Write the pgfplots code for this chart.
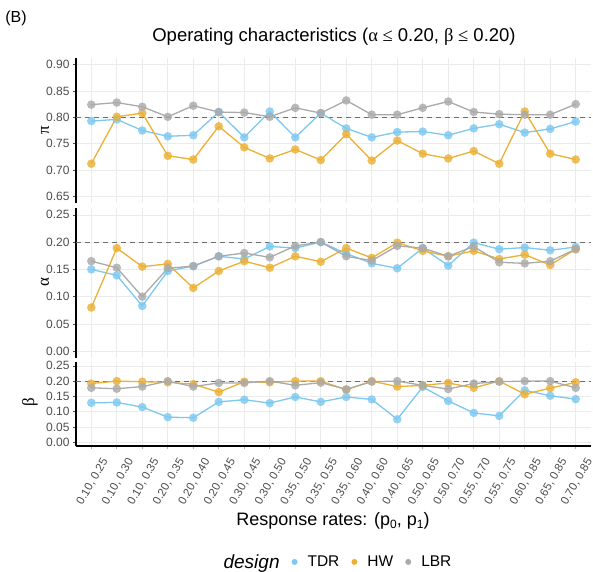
\documentclass[border=0pt]{standalone}
\usepackage{fontspec}
\setmainfont{Liberation Sans}
\newfontfamily\greek{Liberation Serif}
\usepackage{pgfplots}
\usepackage{pgfplotstable}
\pgfplotsset{compat=1.18}
\definecolor{tdr}{RGB}{125,200,240}
\definecolor{hw}{RGB}{236,176,52}
\definecolor{lbr}{RGB}{170,170,170}
\definecolor{gridc}{RGB}{235,235,235}
\definecolor{tickc}{RGB}{77,77,77}
\definecolor{refc}{RGB}{110,110,110}

\pgfplotstableread{
x tdr hw lbr
1 0.793 0.712 0.824
2 0.796 0.801 0.828
3 0.775 0.808 0.820
4 0.764 0.727 0.801
5 0.766 0.720 0.822
6 0.810 0.783 0.810
7 0.762 0.743 0.809
8 0.811 0.722 0.801
9 0.762 0.739 0.818
10 0.808 0.719 0.808
11 0.779 0.768 0.832
12 0.762 0.718 0.805
13 0.772 0.756 0.805
14 0.773 0.731 0.818
15 0.766 0.722 0.830
16 0.779 0.736 0.810
17 0.787 0.712 0.806
18 0.771 0.811 0.805
19 0.778 0.731 0.805
20 0.792 0.720 0.825
}\pidata

\pgfplotstableread{
x tdr hw lbr
1 0.150 0.080 0.165
2 0.139 0.189 0.153
3 0.083 0.155 0.100
4 0.147 0.160 0.152
5 0.156 0.116 0.156
6 0.174 0.147 0.174
7 0.169 0.165 0.180
8 0.192 0.153 0.172
9 0.189 0.174 0.193
10 0.200 0.164 0.200
11 0.179 0.189 0.174
12 0.161 0.171 0.166
13 0.152 0.199 0.193
14 0.189 0.184 0.189
15 0.157 0.174 0.174
16 0.199 0.184 0.192
17 0.187 0.169 0.163
18 0.190 0.177 0.161
19 0.185 0.158 0.165
20 0.191 0.187 0.187
}\alphadata

\pgfplotstableread{
x tdr hw lbr
1 0.129 0.192 0.178
2 0.130 0.200 0.175
3 0.115 0.198 0.182
4 0.082 0.196 0.200
5 0.080 0.190 0.182
6 0.132 0.164 0.194
7 0.139 0.198 0.194
8 0.128 0.196 0.200
9 0.148 0.200 0.186
10 0.132 0.200 0.195
11 0.148 0.172 0.173
12 0.140 0.200 0.198
13 0.075 0.182 0.200
14 0.181 0.186 0.186
15 0.135 0.194 0.174
16 0.096 0.178 0.192
17 0.086 0.200 0.198
18 0.170 0.157 0.200
19 0.152 0.177 0.200
20 0.141 0.196 0.178
}\betadata

\pgfplotsset{
  panel/.style={
    scale only axis, width=515pt, anchor=south west,
    xmin=0.4, xmax=20.6, xtick={1,...,20},
    axis x line*=bottom, axis y line*=left,
    axis line style={-},
    y axis line style={black, line width=1.4pt},
    xmajorgrids, ymajorgrids,
    grid style={gridc, line width=0.6pt},
    tick align=outside, major tick length=3pt,
    ytick style={tickc, line width=0.6pt},
    yticklabel style={font=\fontsize{12}{12}\selectfont, color=tickc},
    /pgf/number format/.cd, fixed, fixed zerofill, precision=2, assume math mode=true,
  },
  upper/.style={
    x axis line style={draw=none}, xtick style={draw=none}, xticklabels={},
  },
  ln/.style={line width=1.3pt, no marks},
  pt/.style={only marks, color=#1, mark=*, mark size=4.3pt, mark options={solid, fill=#1, draw opacity=0, fill opacity=0.82}},
  refline/.style={refc, dash pattern=on 5pt off 4pt, line width=1pt, no marks},
}

\begin{document}
\begin{tikzpicture}[x=1pt,y=1pt]
\path[use as bounding box] (0,0) rectangle (593,571);

% top panel: pi
\begin{axis}[panel, upper, at={(76pt,368pt)}, height=145pt,
  ymin=0.6375, ymax=0.9125, ytick={0.65,0.7,0.75,0.8,0.85,0.9}]
\addplot[refline] coordinates {(0.4,0.8) (20.6,0.8)};
\addplot[ln, tdr] table[x=x,y=tdr]{\pidata};
\addplot[ln, hw] table[x=x,y=hw]{\pidata};
\addplot[ln, lbr] table[x=x,y=lbr]{\pidata};
\addplot[pt=tdr] table[x=x,y=tdr]{\pidata};
\addplot[pt=hw] table[x=x,y=hw]{\pidata};
\addplot[pt=lbr] table[x=x,y=lbr]{\pidata};
\end{axis}

% middle panel: alpha
\begin{axis}[panel, upper, at={(76pt,213pt)}, height=150pt,
  ymin=-0.0125, ymax=0.2625, ytick={0,0.05,0.1,0.15,0.2,0.25}]
\addplot[refline] coordinates {(0.4,0.2) (20.6,0.2)};
\addplot[ln, tdr] table[x=x,y=tdr]{\alphadata};
\addplot[ln, hw] table[x=x,y=hw]{\alphadata};
\addplot[ln, lbr] table[x=x,y=lbr]{\alphadata};
\addplot[pt=tdr] table[x=x,y=tdr]{\alphadata};
\addplot[pt=hw] table[x=x,y=hw]{\alphadata};
\addplot[pt=lbr] table[x=x,y=lbr]{\alphadata};
\end{axis}

% bottom panel: beta
\begin{axis}[panel, at={(76pt,125pt)}, height=84pt,
  ymin=-0.0125, ymax=0.2625, ytick={0,0.05,0.1,0.15,0.2,0.25},
  x axis line style={black, line width=1.4pt},
  xtick style={gray!60, line width=0.6pt},
  xticklabels={{0.10, 0.25},{0.10, 0.30},{0.10, 0.35},{0.20, 0.35},{0.20, 0.40},{0.20, 0.45},{0.30, 0.45},{0.30, 0.50},{0.35, 0.50},{0.35, 0.55},{0.35, 0.60},{0.40, 0.60},{0.40, 0.65},{0.50, 0.65},{0.50, 0.70},{0.55, 0.70},{0.55, 0.75},{0.60, 0.85},{0.65, 0.85},{0.70, 0.85}},
  xticklabel style={xshift=9pt, yshift=-5pt, rotate=60, anchor=north east, font=\fontsize{11.5}{12}\selectfont, color=tickc, inner sep=2pt},
  legend style={at={(rel axis cs:0.5,-1.38)}, anchor=center, draw=none, fill=none,
    legend columns=-1, font=\fontsize{15.5}{16}\selectfont,
    /tikz/every odd column/.append style={column sep=8pt},
    /tikz/every even column/.append style={column sep=10pt}},
  legend cell align=left]
\addlegendimage{empty legend}
\addlegendentry{\fontsize{19}{19}\selectfont\itshape design}
\addlegendimage{only marks, color=tdr, mark=*, mark size=3pt, mark options={solid, fill=tdr, draw opacity=0}}
\addlegendentry{TDR}
\addlegendimage{only marks, color=hw, mark=*, mark size=3pt, mark options={solid, fill=hw, draw opacity=0}}
\addlegendentry{HW}
\addlegendimage{only marks, color=lbr, mark=*, mark size=3pt, mark options={solid, fill=lbr, draw opacity=0}}
\addlegendentry{LBR}
\addplot[refline, forget plot] coordinates {(0.4,0.2) (20.6,0.2)};
\addplot[ln, tdr, forget plot] table[x=x,y=tdr]{\betadata};
\addplot[ln, hw, forget plot] table[x=x,y=hw]{\betadata};
\addplot[ln, lbr, forget plot] table[x=x,y=lbr]{\betadata};
\addplot[pt=tdr, forget plot] table[x=x,y=tdr]{\betadata};
\addplot[pt=hw, forget plot] table[x=x,y=hw]{\betadata};
\addplot[pt=lbr, forget plot] table[x=x,y=lbr]{\betadata};
\end{axis}

% texts
\node[font=\fontsize{16}{16}\selectfont] at (16,553) {(B)};
\node[font=\fontsize{18.5}{19}\selectfont] at (334,534) {Operating characteristics ({\greek α ≤} 0.20, {\greek β ≤} 0.20)};
\node[font=\fontsize{18}{18}\selectfont] at (333,50) {Response rates: (p\raisebox{-0.3ex}{\fontsize{12}{12}\selectfont 0}, p\raisebox{-0.3ex}{\fontsize{12}{12}\selectfont 1})};
\node[rotate=90, font=\fontsize{17}{18}\selectfont\greek] at (45,441) {π};
\node[rotate=90, font=\fontsize{17}{18}\selectfont\greek] at (45,289) {α};
\node[rotate=90, font=\fontsize{17}{18}\selectfont\greek] at (30,169) {β};
\end{tikzpicture}
\end{document}
